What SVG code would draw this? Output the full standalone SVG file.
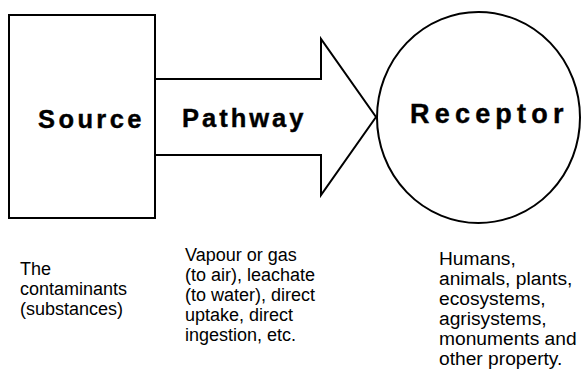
<svg xmlns="http://www.w3.org/2000/svg" width="582" height="377" viewBox="0 0 582 377">
  <style>
    .shape { fill: #fff; stroke: #000; stroke-width: 2; }
    .title { font-family: "Liberation Sans", Arial, sans-serif; font-weight: bold; fill: #000; stroke: #000; stroke-width: 0.4; }
    .note { font-family: "Liberation Sans", Arial, sans-serif; font-size: 18px; fill: #000; }
  </style>
  <rect width="582" height="377" fill="#fff"/>
  <g id="connectors">
    <!-- Block arrow carrying the pathway label -->
    <path id="pathway-arrow" class="shape" d="M155,79 H321 V39 L376,117 L321,195 V155 H155 Z"/>
  </g>
  <g id="source">
    <rect class="shape" x="9" y="15" width="146" height="203"/>
    <text class="title" x="38" y="128" font-size="25.5" letter-spacing="3.4">Source</text>
  </g>
  <g id="pathway">
    <text class="title" x="182" y="127" font-size="25.5" letter-spacing="3">Pathway</text>
  </g>
  <g id="receptor">
    <ellipse class="shape" cx="478.5" cy="117.5" rx="101.5" ry="105.5"/>
    <text class="title" x="410" y="123" font-size="27" letter-spacing="5.2">Receptor</text>
  </g>
  <g id="source-note">
    <text class="note" x="20" y="275">The</text>
    <text class="note" x="20" y="295">contaminants</text>
    <text class="note" x="20" y="315">(substances)</text>
  </g>
  <g id="pathway-note">
    <text class="note" x="185" y="261" font-size="18.4">Vapour or gas</text>
    <text class="note" x="185" y="281" font-size="18.4">(to air), leachate</text>
    <text class="note" x="185" y="301" font-size="18.4">(to water), direct</text>
    <text class="note" x="185" y="321" font-size="18.4">uptake, direct</text>
    <text class="note" x="185" y="341" font-size="18.4">ingestion, etc.</text>
  </g>
  <g id="receptor-note" font-size="19.2">
    <text class="note" x="439" y="265" style="font-size:19.2px">Humans,</text>
    <text class="note" x="439" y="285" style="font-size:19.2px">animals, plants,</text>
    <text class="note" x="439" y="305" style="font-size:19.2px">ecosystems,</text>
    <text class="note" x="439" y="325" style="font-size:19.2px">agrisystems,</text>
    <text class="note" x="439" y="345" style="font-size:19.2px">monuments and</text>
    <text class="note" x="439" y="365" style="font-size:19.2px">other property.</text>
  </g>
</svg>
